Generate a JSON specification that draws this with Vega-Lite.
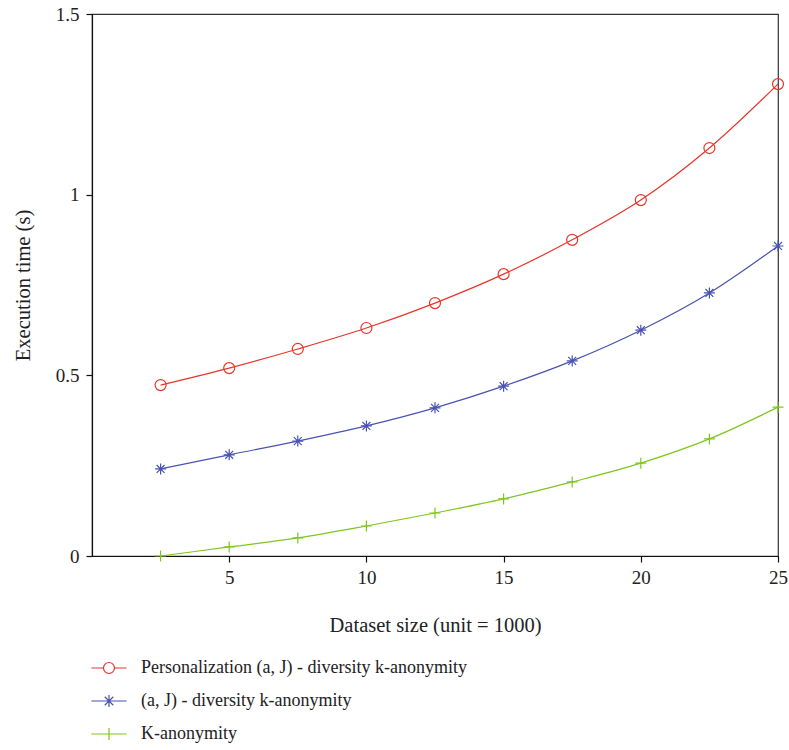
{
  "$schema": "https://vega.github.io/schema/vega-lite/v6.json",
  "autosize": {"type": "none"},
  "width": 686,
  "height": 542,
  "padding": {"left": 92, "top": 14, "right": 11, "bottom": 194},
  "background": "white",
  "config": {
    "font": "'Liberation Serif', 'DejaVu Serif', serif",
    "view": {"stroke": "#333", "strokeWidth": 1.2},
    "axis": {
      "labelFont": "'Liberation Serif', 'DejaVu Serif', serif",
      "titleFont": "'Liberation Serif', 'DejaVu Serif', serif",
      "labelFontSize": 19,
      "titleFontSize": 20.5,
      "labelColor": "#222",
      "titleColor": "#222",
      "titleFontWeight": "normal",
      "domainColor": "#111",
      "tickColor": "#111",
      "domainWidth": 1.2,
      "tickWidth": 1.2,
      "tickSize": 6,
      "grid": false,
      "labelFlush": false,
      "labelOverlap": false
    },
    "legend": {
      "labelFont": "'Liberation Serif', 'DejaVu Serif', serif",
      "labelFontSize": 18,
      "labelColor": "#222",
      "labelLimit": 0
    }
  },
  "data": {
    "values": [
      {"series": "Personalization (a, J) - diversity k-anonymity", "x": 2.5, "y": 0.473},
      {"series": "Personalization (a, J) - diversity k-anonymity", "x": 5, "y": 0.52},
      {"series": "Personalization (a, J) - diversity k-anonymity", "x": 7.5, "y": 0.573},
      {"series": "Personalization (a, J) - diversity k-anonymity", "x": 10, "y": 0.631},
      {"series": "Personalization (a, J) - diversity k-anonymity", "x": 12.5, "y": 0.70},
      {"series": "Personalization (a, J) - diversity k-anonymity", "x": 15, "y": 0.78},
      {"series": "Personalization (a, J) - diversity k-anonymity", "x": 17.5, "y": 0.875},
      {"series": "Personalization (a, J) - diversity k-anonymity", "x": 20, "y": 0.985},
      {"series": "Personalization (a, J) - diversity k-anonymity", "x": 22.5, "y": 1.129},
      {"series": "Personalization (a, J) - diversity k-anonymity", "x": 25, "y": 1.306},
      {"series": "(a, J) - diversity k-anonymity", "x": 2.5, "y": 0.241},
      {"series": "(a, J) - diversity k-anonymity", "x": 5, "y": 0.28},
      {"series": "(a, J) - diversity k-anonymity", "x": 7.5, "y": 0.318},
      {"series": "(a, J) - diversity k-anonymity", "x": 10, "y": 0.36},
      {"series": "(a, J) - diversity k-anonymity", "x": 12.5, "y": 0.41},
      {"series": "(a, J) - diversity k-anonymity", "x": 15, "y": 0.47},
      {"series": "(a, J) - diversity k-anonymity", "x": 17.5, "y": 0.54},
      {"series": "(a, J) - diversity k-anonymity", "x": 20, "y": 0.625},
      {"series": "(a, J) - diversity k-anonymity", "x": 22.5, "y": 0.728},
      {"series": "(a, J) - diversity k-anonymity", "x": 25, "y": 0.858},
      {"series": "K-anonymity", "x": 2.5, "y": 0.0},
      {"series": "K-anonymity", "x": 5, "y": 0.025},
      {"series": "K-anonymity", "x": 7.5, "y": 0.05},
      {"series": "K-anonymity", "x": 10, "y": 0.083},
      {"series": "K-anonymity", "x": 12.5, "y": 0.119},
      {"series": "K-anonymity", "x": 15, "y": 0.158},
      {"series": "K-anonymity", "x": 17.5, "y": 0.205},
      {"series": "K-anonymity", "x": 20, "y": 0.257},
      {"series": "K-anonymity", "x": 22.5, "y": 0.324},
      {"series": "K-anonymity", "x": 25, "y": 0.412}
    ]
  },
  "encoding": {
    "x": {
      "field": "x", "type": "quantitative",
      "scale": {"domain": [0, 25], "nice": false, "zero": false},
      "axis": {"values": [5, 10, 15, 20, 25], "title": "Dataset size (unit = 1000)", "titlePadding": 28, "labelPadding": 6}
    },
    "y": {
      "field": "y", "type": "quantitative",
      "scale": {"domain": [0, 1.5], "nice": false},
      "axis": {"values": [0, 0.5, 1, 1.5], "format": "~g", "title": "Execution time (s)", "titlePadding": 22, "labelPadding": 7}
    },
    "color": {
      "field": "series", "type": "nominal",
      "scale": {
        "domain": ["Personalization (a, J) - diversity k-anonymity", "(a, J) - diversity k-anonymity", "K-anonymity"],
        "range": ["#e8352a", "#4a52b3", "#7ec61c"]
      },
      "legend": {
        "orient": "none",
        "legendX": 8,
        "legendY": 645,
        "title": null,
        "padding": 0,
        "symbolSize": 121,
        "symbolStrokeWidth": 1.2,
        "labelOffset": 23,
        "rowPadding": 15,
        "encode": {
          "symbols": {
            "update": {
              "shape": {"signal": "datum.value === 'K-anonymity' ? 'M-3.2,0L3.2,0M0,-1.1L0,1.1' : (datum.value === '(a, J) - diversity k-anonymity' ? 'M-3.2,0L3.2,0M0,-1.1L0,1.1M-0.78,-0.78L0.78,0.78M-0.78,0.78L0.78,-0.78' : 'M-3.2,0L-1,0M1,0L3.2,0M-1,0A1,1 0 1,1 1,0A1,1 0 1,1 -1,0')"},
              "fill": {"value": "transparent"},
              "stroke": {"scale": "color", "field": "value"},
              "strokeWidth": {"value": 1.2}
            }
          }
        }
      }
    }
  },
  "layer": [
    {
      "mark": {"type": "line", "interpolate": "monotone", "strokeWidth": 1.2}
    },
    {
      "transform": [{"filter": "datum.series === 'Personalization (a, J) - diversity k-anonymity'"}],
      "mark": {"type": "point", "filled": false, "strokeWidth": 1.2, "opacity": 1, "shape": "circle", "size": 121}
    },
    {
      "transform": [{"filter": "datum.series === '(a, J) - diversity k-anonymity'"}],
      "mark": {"type": "point", "filled": false, "strokeWidth": 1.2, "opacity": 1, "shape": "M-1,0L1,0M0,-1L0,1M-0.72,-0.72L0.72,0.72M-0.72,0.72L0.72,-0.72", "size": 121}
    },
    {
      "transform": [{"filter": "datum.series === 'K-anonymity'"}],
      "mark": {"type": "point", "filled": false, "strokeWidth": 1.2, "opacity": 1, "shape": "M-1,0L1,0M0,-1L0,1", "size": 121}
    }
  ]
}
